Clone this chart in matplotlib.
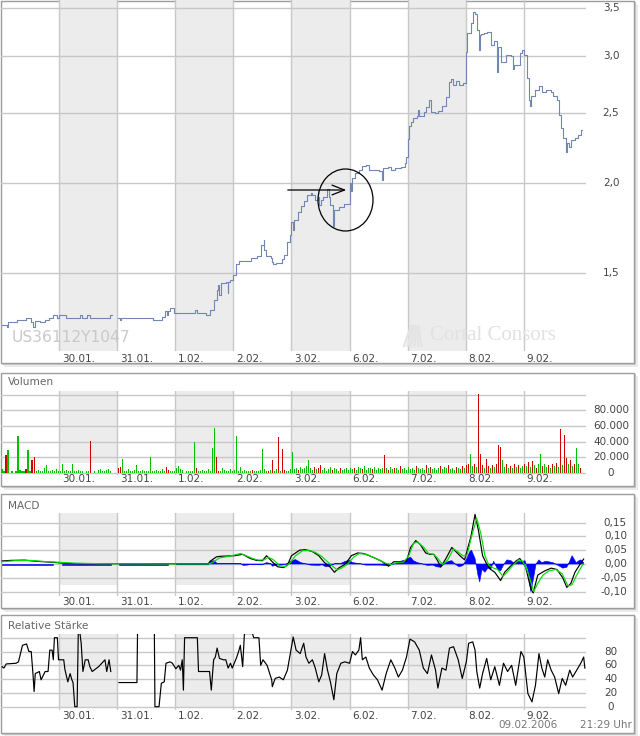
import numpy as np
import matplotlib
matplotlib.use('Agg')
import matplotlib.pyplot as plt
import matplotlib.transforms as mtransforms
from matplotlib.patches import Rectangle, Ellipse
from matplotlib.lines import Line2D

plt.rcParams['font.family'] = ['DejaVu Sans', 'Liberation Sans']

W, H = 640, 736

day_labels = ['30.01.', '31.01.', '1.02.', '2.02.', '3.02.', '6.02.', '7.02.', '8.02.', '9.02.']
shaded_days = [1, 3, 5, 7]

# time axis: trading days since 27.01. (one unit per session)
price_t = [0.02, 0.10, 0.12, 0.28, 0.43, 0.52, 0.55, 0.59, 0.67, 0.76, 0.83, 0.90, 0.97,
           1.00, 1.12, 1.36, 1.40, 1.48, 1.53, 1.71, 1.88, 1.90, 1.91,
           2.02, 2.05, 2.07, 2.62, 2.78, 2.83, 2.86, 2.88, 2.91, 2.97,
           3.00, 3.34, 3.38, 3.53, 3.60, 3.66, 3.72, 3.74, 3.76, 3.78, 3.79, 3.88, 3.90, 3.91, 3.95,
           4.00, 4.05, 4.09, 4.31, 4.40, 4.47, 4.52, 4.53, 4.57, 4.64, 4.67, 4.69, 4.74, 4.84, 4.88, 4.93, 4.97,
           5.00, 5.03, 5.05, 5.12, 5.16, 5.21, 5.26, 5.33, 5.36, 5.41, 5.45, 5.47, 5.50, 5.55, 5.62, 5.64,
           5.67, 5.71, 5.72, 5.74, 5.81, 5.90, 5.98,
           6.00, 6.03, 6.05, 6.10, 6.16, 6.22, 6.29, 6.33, 6.50, 6.55, 6.57, 6.66, 6.71, 6.79, 6.88, 6.95, 6.98,
           7.00, 7.02, 7.05, 7.10, 7.16, 7.17, 7.19, 7.28, 7.31, 7.36, 7.40, 7.47, 7.53, 7.59, 7.66, 7.71,
           7.74, 7.78, 7.83, 7.88, 7.95,
           8.00, 8.03, 8.09, 8.12, 8.16, 8.19, 8.22, 8.24, 8.26, 8.31, 8.36, 8.43, 8.48, 8.53, 8.55, 8.60,
           8.69, 8.78, 8.81, 8.83, 8.93, 8.97,
           9.00, 9.05, 9.09, 9.10, 9.12, 9.19, 9.26, 9.31, 9.38, 9.47, 9.50, 9.57, 9.60, 9.64, 9.67, 9.72,
           9.74, 9.78, 9.81, 9.88, 9.93, 9.98, 10.00]
price = [1.271, 1.262, 1.283, 1.291, 1.299, 1.283, 1.262, 1.287, 1.283, 1.291, 1.299, 1.312, 1.299,
         1.312, 1.299, 1.312, 1.299, 1.312, 1.299, 1.299, 1.312, 1.312, np.nan,
         1.299, 1.291, 1.299, 1.291, 1.304, 1.329, 1.312, 1.329, 1.342, 1.320,
         1.320, 1.333, 1.320, 1.312, 1.333, 1.376, 1.421, 1.444, 1.398, 1.444, 1.453, 1.458, 1.407, 1.458, 1.467,
         1.491, 1.544, 1.559, 1.574, 1.584, 1.641, 1.667, 1.615, 1.584, 1.574, 1.554, 1.544, 1.549, 1.569, 1.589, 1.656, 1.694,
         1.766, 1.721, 1.777, 1.823, 1.858, 1.888, 1.925, 1.937, 1.925, 1.894, 1.913, 1.864, 1.894, 1.913, 1.962, 1.913,
         1.864, 1.823, 1.743, 1.835, 1.852, 1.870, 1.870,
         2.000, 1.950, 2.032, 2.065, 2.085, 2.112, 2.118, 2.085, 2.078, 2.019, 2.098, 2.105, 2.085, 2.098, 2.105, 2.132, 2.173,
         2.302, 2.400, 2.430, 2.462, 2.477, 2.525, 2.477, 2.509, 2.550, 2.607, 2.509, 2.501, 2.517, 2.558, 2.633, 2.762,
         2.788, 2.735, 2.771, 2.735, 2.753,
         3.039, 3.230, 3.335, 3.454, 3.432, 3.261, 3.059, 3.209, 3.219, 3.230, 3.240, 3.108, 3.148, 2.851, 3.088, 2.944,
         3.010, 3.001, 2.879, 2.916, 3.030, 3.059,
         3.010, 2.797, 2.607, 2.558, 2.641, 2.692, 2.727, 2.675, 2.692, 2.675, 2.641, 2.607, 2.485, 2.384, 2.309, 2.208,
         2.273, 2.244, 2.295, 2.309, 2.332, 2.369, 2.369]

# volume per session (thousands), red = falling trade
vol_days = [
    [5, 2, 22.5, 29, 0, 3, 0, 2, 47, 4, 3, 2, 5, 29, 3, 17, 21, 2, 4, 3, 2, 6, 10.6, 3, 2, 4, 2, 5, 3],
    [3, 12, 2, 4, 3, 2, 11, 3, 2, 4, 2, 3, 0, 2, 3, 40.4, 0, 2, 0, 4, 5, 3, 2, 4, 5, 3, 0, 0, 0],
    [7, 8, 18.3, 3, 2, 5, 3, 2, 4, 10, 3, 2, 4, 3, 2, 3, 21, 2, 3, 4, 2, 3, 5, 2, 7.7, 4, 2, 3, 2],
    [6, 9, 5, 4, 0, 2, 3, 2, 3, 39, 7, 3, 2, 4, 3, 2, 5, 3, 31.5, 57.9, 21, 3, 2, 6, 4, 3, 2, 5, 3],
    [4, 46.8, 3, 8, 2, 4, 3, 2, 3, 4, 2, 3, 2, 4, 31, 5, 3, 2, 4, 17, 3, 5, 45.5, 3, 30.2, 4, 2, 3, 5],
    [26.4, 5, 6, 4, 8, 5, 7, 9, 16.2, 6, 4, 8, 5, 7, 10, 4, 6, 3, 5, 8, 4, 6, 5, 3, 7, 4, 5, 6, 4],
    [6, 5, 7, 4, 8, 6, 5, 9, 4, 6, 7, 5, 8, 4, 6, 5, 7, 22.5, 6, 4, 8, 5, 7, 6, 4, 9, 5, 6, 4],
    [8, 5, 6, 4, 9, 6, 5, 7, 4, 10, 6, 8, 5, 7, 4, 6, 9, 5, 8, 6, 10, 5, 7, 4, 8, 6, 5, 9, 6],
    [10, 12, 23.8, 9, 11, 8, 101, 23.8, 10, 7, 18.3, 9, 6, 10, 8, 12, 35.3, 33.2, 16.2, 8, 11, 6, 9, 7, 12, 8, 10, 6, 9],
    [12, 9, 14, 8, 15, 10, 7, 11, 23.8, 9, 12, 8, 10, 7, 11, 9, 13, 8, 56.6, 10, 48, 19.6, 12, 17, 9, 11, 32.3, 12, 6],
]
vol_red = [
    [2, 12, 15, 16],
    [15],
    [0, 1, 24, 25],
    [10, 20, 21],
    [9, 17, 19, 22, 24, 25],
    [3, 11, 13, 14, 20, 24],
    [2, 6, 11, 17, 19, 22, 25],
    [4, 9, 11, 16, 20, 24, 27],
    [0, 1, 4, 6, 7, 8, 10, 11, 13, 15, 16, 17, 20, 22, 24, 26],
    [0, 2, 4, 6, 9, 12, 14, 16, 18, 20, 21, 23, 25, 28],
]

macd_t = [0.02, 0.16, 0.41, 0.59, 0.90, 1.12, 1.36, 3.57, 3.60, 3.71, 3.79, 4.02, 4.16, 4.29, 4.40, 4.50,
          4.57, 4.66, 4.76, 4.86, 4.93, 5.00, 5.14, 5.24, 5.36, 5.47, 5.57, 5.67, 5.74, 5.81, 5.93, 6.03,
          6.14, 6.24, 6.34, 6.45, 6.55, 6.67, 6.76, 6.88, 6.98, 7.05, 7.14, 7.22, 7.31, 7.38, 7.45, 7.52,
          7.57, 7.66, 7.76, 7.83, 7.90, 7.98, 8.09, 8.16, 8.22, 8.29, 8.36, 8.43, 8.50, 8.60, 8.67, 8.76,
          8.86, 8.93, 9.03, 9.12, 9.16, 9.24, 9.36, 9.47, 9.57, 9.67, 9.74, 9.81, 9.88, 9.97, 10.03]
macd = [0.011, 0.013, 0.014, 0.010, 0.006, 0.002, 0.001, 0.001, 0.010, 0.026, 0.028, 0.030, 0.035, 0.020,
        0.013, 0.012, 0.030, 0.010, -0.010, -0.013, -0.005, 0.030, 0.050, 0.052, 0.045, 0.030, 0.005,
        -0.012, -0.030, -0.015, 0.000, 0.030, 0.040, 0.038, 0.030, 0.020, 0.010, -0.008, 0.008, 0.008,
        0.010, 0.060, 0.085, 0.070, 0.040, 0.035, 0.035, 0.010, -0.010, 0.020, 0.060, 0.045, 0.030, 0.015,
        0.100, 0.180, 0.120, 0.030, 0.000, -0.020, -0.030, -0.060, -0.030, -0.010, 0.010, 0.020, -0.010,
        -0.090, -0.105, -0.040, -0.025, -0.015, -0.020, -0.050, -0.085, -0.070, -0.030, 0.000, 0.018]

signal_t = [0.02, 0.24, 0.50, 0.76, 1.02, 1.28, 1.71, 3.57, 3.64, 3.76, 3.93, 4.12, 4.22, 4.33, 4.43, 4.53,
            4.60, 4.69, 4.79, 4.90, 4.98, 5.07, 5.19, 5.29, 5.41, 5.52, 5.62, 5.72, 5.79, 5.86, 5.97, 6.07,
            6.17, 6.29, 6.40, 6.50, 6.62, 6.71, 6.81, 6.93, 7.02, 7.10, 7.17, 7.28, 7.36, 7.45, 7.52, 7.60,
            7.69, 7.79, 7.86, 7.95, 8.02, 8.10, 8.19, 8.26, 8.33, 8.40, 8.48, 8.55, 8.64, 8.71, 8.81, 8.91,
            8.98, 9.07, 9.17, 9.24, 9.33, 9.43, 9.55, 9.66, 9.76, 9.83, 9.91, 10.02]
signal = [0.008, 0.012, 0.013, 0.009, 0.006, 0.003, 0.001, 0.000, 0.005, 0.022, 0.028, 0.038, 0.030, 0.020,
          0.014, 0.015, 0.025, 0.015, -0.005, -0.010, 0.005, 0.030, 0.048, 0.050, 0.042, 0.028, 0.008,
          -0.010, -0.022, -0.015, 0.000, 0.025, 0.038, 0.035, 0.025, 0.015, 0.003, -0.002, 0.005, 0.007,
          0.030, 0.075, 0.080, 0.060, 0.038, 0.035, 0.020, -0.002, 0.015, 0.055, 0.045, 0.030, 0.030, 0.100,
          0.165, 0.110, 0.030, -0.005, -0.015, -0.020, -0.045, -0.030, -0.005, 0.015, 0.010, -0.030, -0.100,
          -0.070, -0.040, -0.025, -0.020, -0.035, -0.080, -0.075, -0.040, 0.000]

hist_t = [0.02, 0.90, 0.93, 1.05, 1.90, 1.95, 2.03, 2.88, 2.93, 3.02, 3.57, 3.60, 3.67, 3.72, 4.12, 4.17,
          4.24, 4.29, 4.50, 4.57, 4.64, 4.67, 4.74, 4.90, 4.98, 5.07, 5.16, 5.24, 5.33, 5.47, 5.53, 5.59,
          5.67, 5.76, 5.84, 5.93, 6.00, 6.05, 6.19, 6.28, 6.53, 6.67, 6.79, 6.88, 6.97, 7.05, 7.10, 7.17,
          7.26, 7.34, 7.43, 7.50, 7.57, 7.64, 7.71, 7.76, 7.83, 7.88, 7.95, 8.02, 8.07, 8.10, 8.16, 8.21,
          8.24, 8.28, 8.33, 8.38, 8.43, 8.48, 8.55, 8.60, 8.66, 8.71, 8.78, 8.83, 8.90, 8.95, 9.02, 9.07,
          9.12, 9.16, 9.21, 9.26, 9.31, 9.38, 9.43, 9.50, 9.59, 9.67, 9.74, 9.79, 9.83, 9.86, 9.90, 9.95,
          9.98, 10.03]
hist = [-0.003, -0.003, np.nan, -0.003, -0.003, np.nan, -0.003, -0.003, np.nan, -0.003, -0.003, 0.010,
        0.012, 0.002, 0.002, -0.005, -0.004, -0.002, -0.003, 0.005, 0.002, -0.008, -0.004, -0.002, 0.010,
        0.016, 0.005, 0.001, -0.004, -0.005, -0.003, -0.010, -0.008, 0.003, 0.001, 0.010, 0.013, 0.005,
        0.001, -0.004, -0.004, -0.006, 0.002, 0.010, 0.015, 0.025, 0.012, 0.005, 0.000, -0.005, -0.004,
        -0.010, -0.012, 0.003, 0.010, 0.012, -0.002, -0.010, -0.006, 0.020, 0.045, 0.050, 0.020, -0.040,
        -0.065, -0.020, -0.030, -0.015, -0.020, 0.010, -0.020, -0.025, 0.000, 0.015, 0.012, 0.003, 0.010,
        0.008, 0.012, -0.020, -0.100, -0.060, 0.000, 0.015, 0.005, 0.010, 0.008, 0.005, -0.005, -0.015,
        -0.012, 0.010, 0.030, 0.020, 0.005, 0.012, 0.015, 0.005]

rsi_t = [0.02, 0.05, 0.09, 0.26, 0.30, 0.37, 0.44, 0.48, 0.52, 0.55, 0.57, 0.59, 0.66, 0.69, 0.76, 0.81,
         0.84, 0.88, 0.90, 0.92, 0.97, 0.99, 1.08, 1.10, 1.15, 1.19, 1.22, 1.24, 1.27, 1.31, 1.33, 1.36,
         1.38, 1.41, 1.45, 1.50, 1.53, 1.57, 1.68, 1.79, 1.82, 1.86, 1.89, 1.92,
         2.03, 2.34, 2.35, 2.40,
         2.64, 2.65, 2.72, 2.76, 2.81, 2.84, 2.91, 2.95, 3.01, 3.06, 3.09, 3.12, 3.14, 3.16, 3.38, 3.40,
         3.59, 3.62, 3.66, 3.69, 3.72, 3.76, 3.83, 3.87, 3.91, 3.95, 3.98, 4.05, 4.09, 4.12, 4.16, 4.19,
         4.33, 4.35, 4.44, 4.47, 4.51, 4.58, 4.66, 4.67, 4.72, 4.79, 4.86, 4.93, 5.00, 5.03, 5.08, 5.15,
         5.21, 5.25, 5.30, 5.36, 5.41, 5.47, 5.52, 5.57, 5.62, 5.67, 5.73, 5.78, 5.85, 5.92, 6.00, 6.05,
         6.10, 6.16, 6.19, 6.22, 6.28, 6.34, 6.41, 6.48, 6.56, 6.63, 6.71, 6.78, 6.84, 6.91, 6.98, 7.04,
         7.12, 7.20, 7.27, 7.34, 7.41, 7.48, 7.52, 7.59, 7.66, 7.72, 7.79, 7.87, 7.94, 8.01, 8.05, 8.12,
         8.16, 8.19, 8.24, 8.29, 8.36, 8.43, 8.50, 8.58, 8.65, 8.72, 8.79, 8.86, 8.95, 9.00, 9.07, 9.14,
         9.20, 9.26, 9.31, 9.36, 9.41, 9.47, 9.53, 9.60, 9.66, 9.72, 9.79, 9.84, 9.91, 9.98, 10.03, 10.05]
rsi = [58, 56, 62, 63, 65, 89, 91, 80, 80, 48, 22, 48, 51, 39, 51, 51,
       82, 82, 68, 100, 100, 68, 68, 54, 36, 48, 39, 35, 0, 0, 106, 106,
       92, 51, 68, 68, 58, 51, 58, 68, 51, 68, 51, np.nan,
       35, 35, 106, np.nan,
       106, 0, 0, 34, 36, 63, 65, 63, 55, 60, 53, 68, 24, 100, 100, 51,
       51, 24, 68, 72, 85, 70, 68, 68, 56, 63, 56, 70, 80, 89, 58, 106,
       106, 100, 100, 60, 68, 60, 39, 29, 41, 43, 39, 53, 87, 101, 82, 77,
       92, 72, 63, 68, 56, 36, 46, 77, 53, 36, 10, 48, 63, 65, 63, 80,
       75, 82, 100, 68, 72, 56, 46, 39, 24, 48, 68, 56, 43, 53, 72, 98,
       94, 82, 56, 48, 75, 53, 27, 56, 53, 85, 87, 68, 41, 65, 92, 94,
       82, 51, 27, 48, 70, 39, 58, 31, 63, 51, 60, 31, 80, 72, 19, 7,
       31, 77, 56, 43, 68, 53, 43, 19, 41, 31, 53, 43, 53, 63, 72, 56]

GRID = '#c8c8c8'
SHADE = '#ececec'
TXT = '#444444'

fig = plt.figure(figsize=(W / 100, H / 100), dpi=100)


def add_axes_px(x0, y0, x1, y1):
    return fig.add_axes([x0 / W, 1 - y1 / H, (x1 - x0) / W, (y1 - y0) / H])


def panel_box(x0, y0, x1, y1):
    for off, c in [(4, '#ebebeb'), (2, '#cdcdcd')]:
        fig.add_artist(Rectangle(((x0 + off) / W, 1 - (y1 + off) / H), (x1 - x0) / W, (y1 - y0) / H,
                                 transform=fig.transFigure, facecolor=c, edgecolor='none', zorder=-3))
    fig.add_artist(Rectangle(((x0 + 0.5) / W, 1 - (y1 - 0.5) / H), (x1 - x0 - 1) / W, (y1 - y0 - 1) / H,
                             transform=fig.transFigure, facecolor='white', edgecolor='#9c9c9c',
                             lw=1, zorder=-2))


def style_axes(ax, ylim, yticks, ylabels, shade_frac, label_dy, lab_x=611, lab_ha='center', log=False):
    if log:
        ax.set_yscale('log')
    ax.set_xlim(0, 10.07)
    ax.set_ylim(*ylim)
    ax.set_facecolor('none')
    for s in ax.spines.values():
        s.set_visible(False)
    ax.set_xticks([])
    ax.set_yticks([])
    ax.minorticks_off()
    for d in shaded_days:
        ax.axvspan(d, d + 1, ymin=1 - shade_frac, ymax=1, color=SHADE, lw=0, zorder=0)
    for d in range(1, 10):
        ax.axvline(d, color=GRID, lw=1, zorder=0.5)
    for v in yticks:
        ax.axhline(v, color=GRID, lw=1, zorder=0.5)
    tr = mtransforms.blended_transform_factory(fig.transFigure, ax.transData)
    for v, s in zip(yticks, ylabels):
        if s:
            ax.text(lab_x / W, v, s, transform=tr, ha=lab_ha, va='center', fontsize=7.5,
                    color=TXT, clip_on=False)
    trx = mtransforms.blended_transform_factory(ax.transData, ax.transAxes)
    for d, s in enumerate(day_labels, start=1):
        ax.text(d + 0.05, label_dy, s, transform=trx, ha='left', va='center', fontsize=7.5,
                color=TXT, clip_on=False)


# ---------- panel boxes ----------
panel_box(0, 0, 634, 363)
panel_box(0, 372, 634, 486)
panel_box(0, 493, 634, 608)
panel_box(0, 614, 634, 733)

# ---------- price ----------
ax1 = add_axes_px(1, 0, 586, 351)
style_axes(ax1, (1.169, 3.589), [1.5, 2.0, 2.5, 3.0, 3.5], ['1,5', '2,0', '2,5', '3,0', '3,5'],
           1.0, -8 / 351, log=True)
ax1.plot(price_t, price, drawstyle='steps-post', color='#6f87b2', lw=0.8, zorder=3)
ax1.text(12 / W, 1 - 338 / H, 'US36112Y1047', transform=fig.transFigure, fontsize=11.2,
         color='#c9c9c9', va='center', ha='left', zorder=1)
ax1.text(430 / W, 1 - 335 / H, 'Cortal Consors', transform=fig.transFigure, fontsize=15,
         family='Liberation Serif', color='#e2e2e2', va='center', ha='left', zorder=1)
for k in range(6):
    ax1.add_line(Line2D([(404 + k * 3.5) / W, (411 + k * 1.5) / W], [1 - 346 / H, 1 - 326 / H],
                        color='#e4e4e4', lw=1.6, transform=fig.transFigure, zorder=1))
# arrow + circle annotation
ax1.annotate('', xy=((349 - 1) / 585, 1 - 190 / 351), xytext=((285 - 1) / 585, 1 - 190 / 351),
             xycoords='axes fraction', textcoords='axes fraction',
             arrowprops=dict(arrowstyle='->,head_length=0.9,head_width=0.35', color='black', lw=0.9),
             zorder=4)
ax1.add_patch(Ellipse(((345.5 - 1) / 585, 1 - 200 / 351), 55 / 585, 62 / 351, transform=ax1.transAxes,
                      fill=False, edgecolor='black', lw=0.9, zorder=4))

# ---------- volume ----------
ax2 = add_axes_px(1, 391, 586, 475)
style_axes(ax2, (-2550, 104460), [0, 20000, 40000, 60000, 80000, 100000],
           ['0', '20.000', '40.000', '60.000', '80.000', ''], 72 / 84, -4 / 84)
ax2.text(8 / W, 1 - 382 / H, 'Volumen', transform=fig.transFigure, fontsize=7.6, color='#666666',
         va='center', ha='left')
for d, vals in enumerate(vol_days):
    n = len(vals)
    xs = d + (np.arange(n) + 0.5) / n
    cols = ['#d00000' if i in vol_red[d] else '#00c000' for i in range(n)]
    ax2.bar(xs, np.array(vals) * 1000, width=0.55 / n, color=cols, lw=0, zorder=2, antialiased=False)

# ---------- MACD ----------
ax3 = add_axes_px(1, 513, 586, 596)
style_axes(ax3, (-0.116, 0.1848), [-0.10, -0.05, 0.0, 0.05, 0.10, 0.15],
           ['-0,10', '-0,05', '0,00', '0,05', '0,10', '0,15'], 72 / 83, -6 / 83, lab_x=627, lab_ha='right')
ax3.text(8 / W, 1 - 506 / H, 'MACD', transform=fig.transFigure, fontsize=7.6, color='#666666',
         va='center', ha='left')
ax3.fill_between(hist_t, 0, hist, color='#0000ff', lw=0.4, edgecolor='#0000ff', zorder=2)
ax3.plot(macd_t, macd, color='black', lw=0.85, zorder=3)
ax3.plot(signal_t, signal, color='#00e000', lw=0.85, zorder=4)

# ---------- RSI ----------
ax4 = add_axes_px(1, 634, 586, 710)
style_axes(ax4, (-4.8, 105.4), [0, 20, 40, 60, 80, 100], ['0', '20', '40', '60', '80', ''],
           0.96, -6 / 76)
ax4.text(8 / W, 1 - 626 / H, 'Relative Stärke', transform=fig.transFigure, fontsize=7.6,
         color='#666666', va='center', ha='left')
ax4.plot(rsi_t, rsi, color='black', lw=0.85, zorder=3)
fig.text(498 / W, 1 - 725 / H, '09.02.2006', fontsize=7.5, color='#777777', va='center', ha='left')
fig.text(632 / W, 1 - 725 / H, '21:29 Uhr', fontsize=7.5, color='#777777', va='center', ha='right')

fig.savefig('out.png', dpi=100)
